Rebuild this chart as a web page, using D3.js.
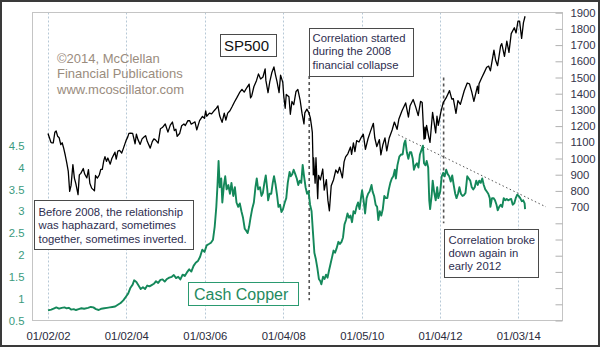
<!DOCTYPE html>
<html><head><meta charset="utf-8">
<script src="https://cdn.jsdelivr.net/npm/d3@7"></script>
<style>
html,body{margin:0;padding:0;background:#fff;}
svg{display:block;font-family:"Liberation Sans",Arial,sans-serif;}
</style></head>
<body><svg id="c" width="600" height="347"></svg>
<script>
// ---------- DATA ----------
const xTickDates = ["2002-01-02","2004-01-02","2006-01-03","2008-01-04","2010-01-05","2012-01-04","2014-01-03"];
const copperTicks = [0.5,1,1.5,2,2.5,3,3.5,4,4.5];
const spTicks = d3.range(0,2000,100);

const spDates = ["2002-01-02","2002-01-16","2002-01-29","2002-02-08","2002-02-20","2002-03-07","2002-03-19","2002-04-02","2002-04-16","2002-05-01","2002-05-14","2002-05-28","2002-06-12","2002-06-26","2002-07-10","2002-07-23","2002-08-05","2002-08-22","2002-09-05","2002-09-19","2002-10-09","2002-10-21","2002-11-04","2002-11-27","2002-12-10","2002-12-30",
"2003-01-14","2003-01-27","2003-02-13","2003-03-11","2003-03-21","2003-04-07","2003-04-25","2003-05-09","2003-05-23","2003-06-06","2003-06-17","2003-07-01","2003-07-14","2003-08-05","2003-08-20","2003-09-05","2003-09-18","2003-09-30","2003-10-15","2003-10-31","2003-11-20","2003-12-05","2003-12-31",
"2004-01-15","2004-01-26","2004-02-11","2004-03-01","2004-03-24","2004-04-05","2004-04-19","2004-05-10","2004-05-28","2004-06-15","2004-06-30","2004-07-15","2004-08-12","2004-08-31","2004-09-15","2004-09-30","2004-10-25","2004-11-15","2004-12-03","2004-12-30",
"2005-01-24","2005-02-15","2005-03-07","2005-03-25","2005-04-08","2005-04-20","2005-05-13","2005-06-01","2005-06-22","2005-07-05","2005-07-29","2005-08-15","2005-08-29","2005-09-20","2005-10-03","2005-10-20","2005-11-15","2005-12-12","2005-12-30",
"2006-01-11","2006-01-20","2006-02-15","2006-03-07","2006-03-31","2006-04-21","2006-05-05","2006-05-22","2006-06-13","2006-07-03","2006-07-18","2006-08-04","2006-08-25","2006-09-15","2006-10-06","2006-10-30","2006-11-22","2006-12-15",
"2007-01-05","2007-01-30","2007-02-20","2007-03-05","2007-03-16","2007-04-05","2007-04-30","2007-05-18","2007-06-07","2007-06-29","2007-07-19","2007-07-26","2007-08-15","2007-08-31","2007-09-19","2007-10-09","2007-10-24","2007-11-07","2007-11-26","2007-12-10","2007-12-31",
"2008-01-08","2008-01-22","2008-02-01","2008-02-26","2008-03-10","2008-03-25","2008-04-11","2008-05-02","2008-05-19","2008-06-09","2008-06-27","2008-07-15","2008-07-23","2008-08-11","2008-08-29","2008-09-12","2008-09-22","2008-10-01","2008-10-10","2008-10-13","2008-10-27","2008-11-04","2008-11-20","2008-11-28","2008-12-15",
"2009-01-06","2009-01-20","2009-02-09","2009-02-23","2009-03-09","2009-03-26","2009-04-17","2009-05-08","2009-05-26","2009-06-12","2009-07-08","2009-07-24","2009-08-07","2009-08-28","2009-09-22","2009-10-02","2009-10-19","2009-11-02","2009-11-18","2009-12-10","2009-12-28",
"2010-01-19","2010-02-08","2010-03-04","2010-03-26","2010-04-23","2010-05-06","2010-05-25","2010-06-18","2010-07-02","2010-07-20","2010-08-09","2010-08-26","2010-09-17","2010-10-15","2010-11-05","2010-11-30","2010-12-17",
"2011-01-14","2011-02-18","2011-03-16","2011-03-31","2011-04-29","2011-05-23","2011-06-15","2011-07-07","2011-07-22","2011-08-08","2011-08-17","2011-08-19","2011-09-01","2011-09-22","2011-10-03","2011-10-27","2011-11-25","2011-12-07","2011-12-19",
"2012-01-13","2012-02-03","2012-03-01","2012-04-02","2012-04-23","2012-05-07","2012-06-01","2012-06-19","2012-07-12","2012-08-17","2012-09-14","2012-10-05","2012-10-26","2012-11-15","2012-12-18","2012-12-28",
"2013-01-02","2013-01-28","2013-02-19","2013-03-14","2013-04-02","2013-04-18","2013-05-21","2013-06-05","2013-06-24","2013-07-22","2013-08-02","2013-08-27","2013-09-18","2013-10-08","2013-10-29","2013-11-27","2013-12-13","2013-12-31",
"2014-01-15","2014-02-03","2014-02-20","2014-03-07"];
const spValues = [1154,1127,1100,1096,1097,1162,1170,1137,1128,1086,1097,1064,1020,973,920,797,834,962,879,843,777,899,908,938,904,880,
931,847,817,800,895,879,898,933,933,987,1011,982,1003,965,1000,1021,1039,996,1046,1050,1034,1061,1112,
1132,1155,1157,1155,1091,1150,1118,1087,1121,1133,1141,1106,1064,1104,1121,1115,1095,1184,1191,1213,
1163,1206,1225,1172,1181,1137,1154,1202,1213,1204,1234,1233,1212,1221,1226,1177,1234,1260,1248,
1294,1261,1280,1275,1295,1311,1325,1262,1223,1280,1237,1280,1295,1321,1349,1377,1406,1427,
1410,1438,1459,1374,1386,1443,1482,1522,1491,1503,1553,1482,1406,1473,1529,1565,1515,1475,1407,1515,1468,
1390,1310,1395,1381,1273,1352,1332,1414,1426,1361,1278,1214,1282,1305,1283,1252,1208,1161,899,1003,848,1005,752,896,868,
935,805,869,743,677,832,869,929,910,946,880,979,1010,1029,1071,1025,1097,1042,1110,1102,1127,
1150,1056,1122,1166,1217,1128,1074,1117,1022,1083,1127,1047,1125,1176,1225,1180,1244,
1293,1343,1256,1326,1364,1317,1265,1353,1345,1119,1193,1124,1204,1129,1099,1285,1158,1261,1205,
1289,1345,1374,1419,1366,1370,1278,1357,1334,1418,1466,1461,1411,1353,1446,1402,
1462,1500,1530,1563,1570,1541,1669,1608,1573,1695,1709,1630,1725,1655,1771,1807,1775,1848,
1848,1741,1839,1878];

const cuDates = ["2002-01-02","2002-02-01","2002-03-01","2002-03-20","2002-04-15","2002-05-10","2002-06-05","2002-06-25","2002-07-15","2002-08-05","2002-08-30","2002-09-20","2002-10-15","2002-11-10","2002-12-05",
"2003-01-10","2003-02-05","2003-03-01","2003-03-25","2003-04-20","2003-05-15","2003-06-10","2003-07-05","2003-08-01","2003-08-25","2003-09-20","2003-10-15","2003-11-10","2003-12-05","2003-12-31",
"2004-01-20","2004-02-10","2004-03-01","2004-03-15","2004-04-05","2004-04-25","2004-05-15","2004-06-05","2004-06-25","2004-07-15","2004-08-05","2004-08-25","2004-09-15","2004-10-05","2004-10-25","2004-11-15","2004-12-05","2004-12-25",
"2005-01-15","2005-02-05","2005-03-01","2005-03-20","2005-04-10","2005-04-30","2005-05-20","2005-06-10","2005-06-30","2005-07-20","2005-08-10","2005-08-30","2005-09-20","2005-10-10","2005-10-30","2005-11-20","2005-12-10","2005-12-31",
"2006-01-20","2006-02-10","2006-03-01","2006-03-20","2006-04-05","2006-04-20","2006-05-01","2006-05-11","2006-05-22","2006-06-05","2006-06-15","2006-06-30","2006-07-12","2006-07-25","2006-08-10","2006-08-25","2006-09-08","2006-09-25","2006-10-10","2006-10-25","2006-11-10","2006-11-25","2006-12-10","2006-12-25",
"2007-01-10","2007-01-25","2007-02-06","2007-02-20","2007-03-05","2007-03-20","2007-04-05","2007-04-20","2007-05-02","2007-05-15","2007-06-01","2007-06-15","2007-06-28","2007-07-12","2007-07-25","2007-08-08","2007-08-16","2007-08-30","2007-09-14","2007-09-28","2007-10-10","2007-10-25","2007-11-08","2007-11-20","2007-12-05","2007-12-18",
"2008-01-02","2008-01-18","2008-02-01","2008-02-15","2008-03-03","2008-03-14","2008-03-28","2008-04-10","2008-04-25","2008-05-09","2008-05-23","2008-06-06","2008-06-20","2008-07-03","2008-07-16","2008-07-30","2008-08-13","2008-08-27","2008-09-10","2008-09-24","2008-10-06","2008-10-20","2008-11-03","2008-11-17","2008-12-01","2008-12-15","2008-12-24",
"2009-01-09","2009-01-23","2009-02-06","2009-02-20","2009-03-06","2009-03-20","2009-04-03","2009-04-17","2009-05-01","2009-05-15","2009-06-01","2009-06-15","2009-06-30","2009-07-14","2009-07-28","2009-08-11","2009-08-25","2009-09-08","2009-09-22","2009-10-06","2009-10-20","2009-11-03","2009-11-17","2009-12-01","2009-12-15","2009-12-31",
"2010-01-08","2010-01-22","2010-02-05","2010-02-19","2010-03-05","2010-03-19","2010-04-06","2010-04-16","2010-04-30","2010-05-14","2010-05-28","2010-06-08","2010-06-22","2010-07-06","2010-07-20","2010-08-03","2010-08-17","2010-08-31","2010-09-14","2010-09-28","2010-10-12","2010-10-26","2010-11-09","2010-11-19","2010-12-03","2010-12-21",
"2011-01-07","2011-01-21","2011-02-04","2011-02-15","2011-03-01","2011-03-15","2011-03-29","2011-04-11","2011-04-25","2011-05-06","2011-05-20","2011-06-03","2011-06-17","2011-07-01","2011-07-15","2011-07-29","2011-08-08","2011-08-22","2011-09-02","2011-09-16","2011-09-26","2011-10-04","2011-10-18","2011-10-28","2011-11-10","2011-11-25","2011-12-09","2011-12-19",
"2012-01-06","2012-01-20","2012-02-03","2012-02-17","2012-03-02","2012-03-16","2012-03-30","2012-04-13","2012-04-27","2012-05-11","2012-05-25","2012-06-06","2012-06-20","2012-07-03","2012-07-17","2012-08-01","2012-08-15","2012-08-29","2012-09-14","2012-09-28","2012-10-12","2012-10-26","2012-11-09","2012-11-23","2012-12-07","2012-12-21",
"2013-01-04","2013-01-18","2013-02-01","2013-02-15","2013-03-01","2013-03-15","2013-03-29","2013-04-12","2013-04-18","2013-05-03","2013-05-17","2013-05-31","2013-06-14","2013-06-25","2013-07-09","2013-07-23","2013-08-06","2013-08-20","2013-09-03","2013-09-17","2013-10-01","2013-10-15","2013-10-29","2013-11-12","2013-11-26","2013-12-10","2013-12-24",
"2014-01-07","2014-01-21","2014-02-04","2014-02-18","2014-03-03","2014-03-07"];
const cuValues = [0.73,0.75,0.78,0.80,0.77,0.79,0.80,0.78,0.79,0.75,0.76,0.74,0.76,0.78,0.77,
0.79,0.81,0.80,0.76,0.74,0.77,0.78,0.79,0.80,0.81,0.82,0.86,0.90,0.96,1.05,
1.12,1.25,1.32,1.42,1.38,1.30,1.22,1.26,1.22,1.30,1.28,1.31,1.34,1.40,1.36,1.43,1.44,1.39,
1.45,1.48,1.50,1.54,1.47,1.50,1.44,1.55,1.52,1.60,1.67,1.62,1.75,1.82,1.86,1.96,2.12,2.07,
2.22,2.25,2.28,2.35,2.65,3.10,3.60,4.15,3.55,3.75,3.20,3.60,3.80,3.50,3.60,3.40,3.65,3.35,3.55,3.20,3.10,3.18,3.00,2.85,
2.60,2.55,2.50,2.65,2.85,3.05,3.20,3.55,3.75,3.50,3.55,3.35,3.42,3.65,3.82,3.50,3.25,3.40,3.40,3.65,3.80,3.60,3.35,3.10,3.15,2.98,
3.05,3.20,3.30,3.65,3.90,3.80,3.85,3.95,3.85,3.75,3.60,3.70,3.65,4.06,3.80,3.55,3.40,3.45,3.15,3.00,2.55,2.05,1.90,1.70,1.45,1.40,1.33,
1.50,1.45,1.55,1.48,1.65,1.80,1.95,2.10,2.05,2.15,2.30,2.25,2.30,2.40,2.70,2.80,2.95,2.85,2.90,2.75,3.00,2.95,3.10,3.20,3.05,3.35,
3.48,3.25,2.95,3.30,3.40,3.45,3.60,3.45,3.35,3.15,3.10,2.80,3.00,2.90,3.05,3.35,3.30,3.30,3.50,3.65,3.75,3.80,3.95,3.75,4.05,4.25,
4.30,4.30,4.55,4.62,4.35,4.20,4.35,4.35,4.20,3.95,4.05,4.10,4.00,4.30,4.40,4.50,4.10,4.05,4.15,4.00,3.25,3.05,3.35,3.70,3.45,3.25,3.55,3.30,
3.45,3.80,3.88,3.80,3.95,3.85,3.80,3.68,3.82,3.60,3.40,3.30,3.40,3.55,3.40,3.35,3.37,3.42,3.80,3.75,3.70,3.55,3.50,3.55,3.70,3.60,
3.70,3.65,3.75,3.60,3.50,3.45,3.40,3.30,3.10,3.30,3.30,3.25,3.15,3.02,3.10,3.15,3.10,3.30,3.25,3.28,3.25,3.27,3.28,3.15,3.18,3.30,3.38,
3.35,3.30,3.23,3.25,3.18,3.05];

// dotted copper trend line (two anchor points, in copper units)
const trendDates = ["2010-12-11","2014-09-18"];
const trendValues = [4.75,3.10];
// dashed event markers (date, SP500-scale span)
const eventDates = ["2008-09-02","2012-02-07"];
const eventTop = [1510,1500];
const eventBottom = [125,600];

// ---------- LAYOUT ----------
const svg = d3.select("#c");
const L = 32.5, R = 562.5, T = 12.5, B = 320.5;
const parse = d3.timeParse("%Y-%m-%d");
const x = d3.scaleTime().domain([parse("2002-01-02"), parse("2014-01-03")]).range([48, 518.3]);
const ySP = d3.scaleLinear().domain([0,1900]).range([B, 12.7]);
const yCu = d3.scaleLinear().domain([0.5,4.5]).range([B, 145.7]);

// outer frame
svg.append("rect").attr("x",1).attr("y",1).attr("width",598).attr("height",345)
  .attr("fill","#fff").attr("stroke","#3a3a3a").attr("stroke-width",2);

// grid lines
svg.append("g").selectAll("line").data(xTickDates).join("line")
  .attr("x1",d=>Math.round(x(parse(d)))+0.5).attr("x2",d=>Math.round(x(parse(d)))+0.5)
  .attr("y1",T).attr("y2",B)
  .attr("stroke","#b6c8d6").attr("stroke-dasharray","2,2").attr("stroke-width",1);

// plot border
svg.append("rect").attr("x",L).attr("y",T).attr("width",R-L).attr("height",B-T)
  .attr("fill","none").attr("stroke","#c4c4c4");

// axes
const fmt = d3.timeFormat("%m/%d/%y");
const gx = svg.append("g").attr("transform",`translate(0,${B})`)
  .call(d3.axisBottom(x).tickValues(xTickDates.map(parse)).tickFormat(fmt).tickSize(0).tickPadding(11));
gx.select(".domain").remove();
gx.selectAll("text").attr("font-size",11.3).attr("fill","#2a2a3c").attr("font-family","Liberation Sans, Arial, sans-serif");

const gr = svg.append("g").attr("transform",`translate(${R},0)`)
  .call(d3.axisRight(ySP).tickValues(spTicks).tickSizeInner(-7).tickSizeOuter(0).tickPadding(8)
    .tickFormat(d=> d>=700 ? d : ""));
gr.select(".domain").remove();
gr.selectAll("line").attr("stroke","#b0b0b0");
gr.selectAll("text").attr("font-size",11.3).attr("fill","#33334a").attr("font-family","Liberation Sans, Arial, sans-serif");

const gl = svg.append("g").attr("transform",`translate(${L},0)`)
  .call(d3.axisLeft(yCu).tickValues(copperTicks).tickSize(0).tickPadding(8).tickFormat(d=>String(d)));
gl.select(".domain").remove();
gl.selectAll("text").attr("font-size",11.3).attr("fill","#3a9a7e").attr("font-family","Liberation Sans, Arial, sans-serif");

// trend line
svg.append("path")
  .datum(trendDates.map((d,i)=>[parse(d),trendValues[i]]))
  .attr("d", d3.line().x(d=>x(d[0])).y(d=>yCu(d[1])))
  .attr("fill","none").attr("stroke","#555").attr("stroke-width",1).attr("stroke-dasharray","1.5,2.5");

// event dashed markers
svg.append("g").selectAll("line").data(eventDates).join("line")
  .attr("x1",d=>x(parse(d))).attr("x2",d=>x(parse(d)))
  .attr("y1",(d,i)=>ySP(eventTop[i])).attr("y2",(d,i)=>ySP(eventBottom[i]))
  .attr("stroke","#555").attr("stroke-width",1.6).attr("stroke-dasharray","3,3");

// copper line
svg.append("path")
  .datum(cuDates.map((d,i)=>[parse(d),cuValues[i]]))
  .attr("d", d3.line().x(d=>x(d[0])).y(d=>yCu(d[1])))
  .attr("fill","none").attr("stroke","#14885a").attr("stroke-width",1.9).attr("stroke-linejoin","round");

// SP500 line
svg.append("path")
  .datum(spDates.map((d,i)=>[parse(d),spValues[i]]))
  .attr("d", d3.line().x(d=>x(d[0])).y(d=>ySP(d[1])))
  .attr("fill","none").attr("stroke","#000").attr("stroke-width",1.3).attr("stroke-linejoin","round");

// ---------- ANNOTATIONS ----------
const cr = svg.append("text").attr("font-size",13).attr("fill","#9a8c7e");
["©2014, McClellan","Financial Publications","www.mcoscillator.com"].forEach((t,i)=>{
  cr.append("tspan").attr("x",57).attr("y",62.5+i*15.5).text(t);
});

function box(x0,y0,w,h,lines,opt){
  const g = svg.append("g");
  g.append("rect").attr("x",x0+0.5).attr("y",y0+0.5).attr("width",w).attr("height",h)
    .attr("fill","#fff").attr("stroke",opt.stroke||"#4a4a4a").attr("stroke-width",1);
  const t = g.append("text").attr("font-size",opt.size).attr("fill",opt.color||"#2e2e50");
  lines.forEach((s,i)=>{
    t.append("tspan").attr("x",x0+opt.dx).attr("y",y0+opt.dy+i*opt.lh).text(s);
  });
}
box(220,34,56,22,["SP500"],{size:15,dx:4,dy:16.5,lh:0,color:"#111"});
box(309,28,104,48,["Correlation started","during the 2008","financial collapse"],{size:11.3,dx:3.5,dy:14,lh:13.3});
box(34,200,159,49,["Before 2008, the relationship","was haphazard, sometimes","together, sometimes inverted."],{size:11.3,dx:4.5,dy:15.5,lh:13.5});
box(188,282,110,23,["Cash Copper"],{size:16,dx:6,dy:17.5,lh:0,stroke:"#2a9a70",color:"#1f8a60"});
box(444,229,94,48,["Correlation broke","down again in","early 2012"],{size:11.3,dx:4.5,dy:15,lh:12.8});
</script>
</body></html>
